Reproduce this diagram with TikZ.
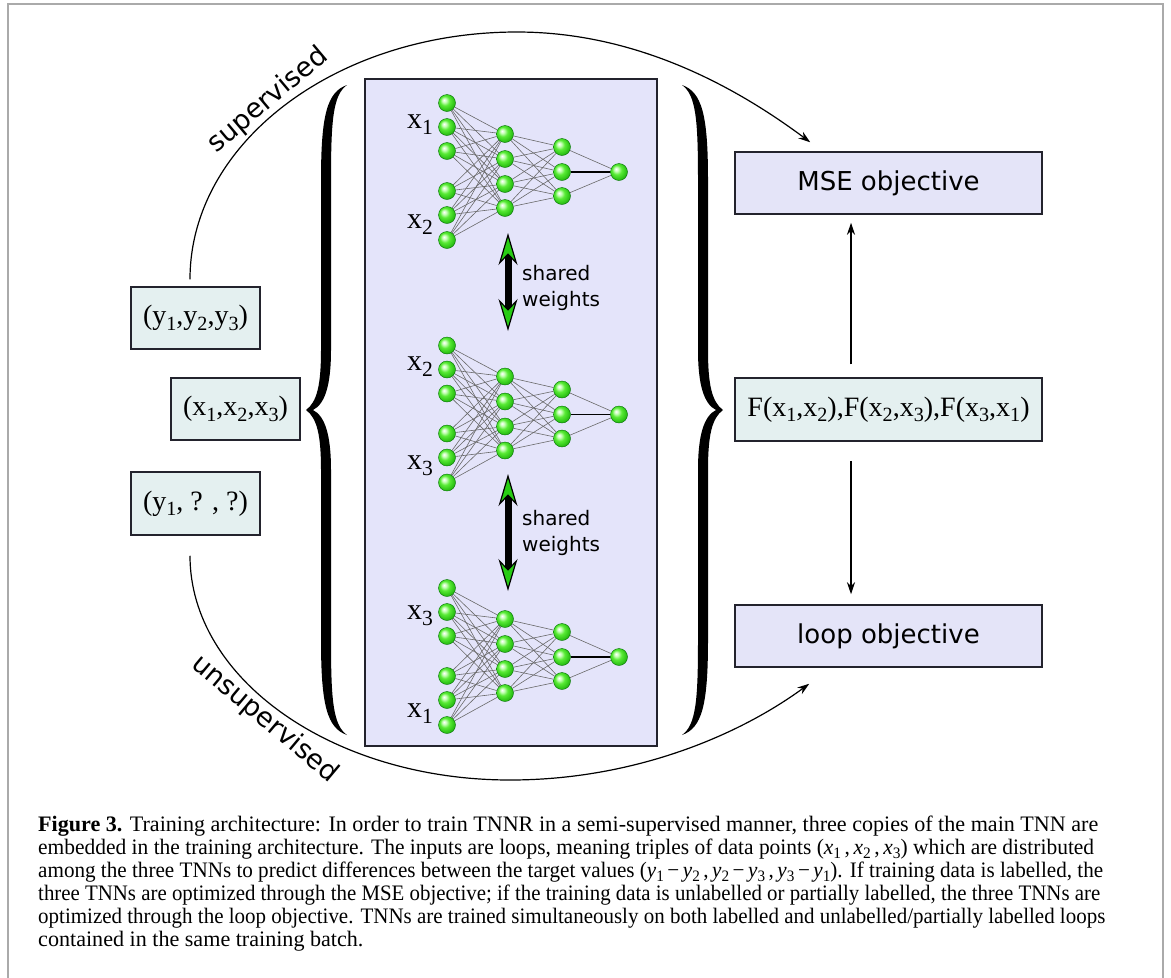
\documentclass[tikz,border=0pt]{standalone}
\usepackage{fontspec}
\setmainfont{Liberation Serif}
\newfontfamily\dejavu{DejaVu Sans}
\usetikzlibrary{arrows.meta,shadings}
\definecolor{panelfill}{RGB}{228,228,250}
\definecolor{boxcyan}{RGB}{228,240,240}
\definecolor{boxlav}{RGB}{228,228,248}
\definecolor{nlight}{RGB}{200,255,185}
\definecolor{ngreen}{RGB}{90,235,55}
\definecolor{nmid}{RGB}{50,200,25}
\definecolor{ndark}{RGB}{30,150,15}
\definecolor{agreen}{RGB}{40,205,20}
\definecolor{framegray}{RGB}{170,170,170}
\definecolor{edgegray}{RGB}{105,105,105}
\definecolor{boxborder}{RGB}{35,35,45}
\pgfdeclareradialshading{neuronball}{\pgfpoint{-9bp}{9bp}}{color(0bp)=(white); color(6bp)=(nlight); color(14bp)=(ngreen); color(24bp)=(nmid); color(34bp)=(ndark); color(50bp)=(ndark)}
\newcommand{\lo}[1]{\raisebox{-0.2em}{\scalebox{0.72}{#1}}}
\newcommand{\capline}[2]{\resizebox{#1pt}{\height}{#2}}
\pgfdeclarelayer{bg}
\pgfdeclarelayer{mid}
\pgfsetlayers{bg,mid,main}
\tikzset{
  panelbox/.style={draw=boxborder,line width=1.5pt,fill=panelfill,inner sep=0pt},
  inbox/.style={draw=boxborder,line width=1.5pt,fill=boxcyan,inner sep=0pt,minimum width=129,minimum height=62,font=\fontsize{28}{30}\selectfont},
  objbox/.style={draw=boxborder,line width=1.5pt,fill=boxlav,inner sep=0pt,minimum width=307,minimum height=62,font=\dejavu\fontsize{26}{30}\selectfont},
  fbox/.style={draw=boxborder,line width=1.5pt,fill=boxcyan,inner sep=0pt,minimum width=307,minimum height=63,font=\fontsize{28}{30}\selectfont},
  neuron/.style={circle,minimum size=17,inner sep=0pt,shading=neuronball,draw=green!45!black,line width=0.4pt},
  edge/.style={draw=edgegray,line width=0.6pt},
  outedge/.style={draw=black,line width=1.2pt},
  netlbl/.style={anchor=base west,inner sep=0pt,font=\fontsize{30}{32}\selectfont},
  arr/.style={draw=black,line width=1.3pt,-{Stealth[length=12pt,width=8pt]}},
  sharedarr/.style={draw=black,line width=7pt,{Stealth[length=32pt,width=19pt,inset=10pt,fill=agreen,line width=1.2pt]}-{Stealth[length=32pt,width=19pt,inset=10pt,fill=agreen,line width=1.2pt]}},
  swlbl/.style={anchor=west,align=left,inner sep=0pt,font=\dejavu\fontsize{20}{26}\selectfont},
  arclbl/.style={inner sep=0pt,font=\dejavu\fontsize{27}{30}\selectfont},
  bracepic/.pic={
    \fill[black] (41,-325) .. controls (21,-318) and (15,-295) .. (15,-230)
      -- (15,-60) .. controls (15,-25) and (11,-8) .. (0,0)
      .. controls (11,8) and (15,25) .. (15,60)
      -- (15,230) .. controls (15,295) and (21,318) .. (41,325)
      .. controls (27,315) and (25,290) .. (25,230)
      -- (25,60) .. controls (25,25) and (19,6) .. (7,0)
      .. controls (19,-6) and (25,-25) .. (25,-60)
      -- (25,-230) .. controls (25,-290) and (27,-315) .. (41,-325) -- cycle;
  }
}
\begin{document}
\begin{tikzpicture}[x=1pt,y=-1pt]
\useasboundingbox (0,0) rectangle (1171,978);
% outer frame
\draw[framegray,line width=1.5pt] (8,978) -- (8,4) -- (1163,4) -- (1163,978);

% main panel
\begin{pgfonlayer}{bg}
\node[panelbox,minimum width=292,minimum height=667] (panel) at (511,412.5) {};
\end{pgfonlayer}

% networks
\foreach \k in {1,2,3} {
  \pgfmathsetmacro\dy{(\k-1)*242.5}
  \foreach \i/\yy in {1/103,2/127,3/151,4/191,5/215,6/240}
    \node[neuron] (n\k-a\i) at (447,\yy+\dy) {};
  \foreach \i/\yy in {1/134,2/159,3/184,4/208}
    \node[neuron] (n\k-b\i) at (505,\yy+\dy) {};
  \foreach \i/\yy in {1/147,2/172,3/196}
    \node[neuron] (n\k-c\i) at (562,\yy+\dy) {};
  \node[neuron] (n\k-d) at (619,172+\dy) {};
  \begin{pgfonlayer}{mid}
    \foreach \i in {1,...,6}
      \foreach \j in {1,...,4}
        \draw[edge] (n\k-a\i) -- (n\k-b\j);
    \foreach \i in {1,...,4}
      \foreach \j in {1,...,3}
        \draw[edge] (n\k-b\i) -- (n\k-c\j);
    \draw[edge] (n\k-c1) -- (n\k-d);
    \draw[outedge] (n\k-c2) -- (n\k-d);
    \draw[edge] (n\k-c3) -- (n\k-d);
  \end{pgfonlayer}
}

% input labels
\node[netlbl] (l1a) at (407,128) {x\lo{1}};
\node[netlbl] (l1b) at (407,228) {x\lo{2}};
\node[netlbl] (l2a) at (407,370) {x\lo{2}};
\node[netlbl] (l2b) at (407,469) {x\lo{3}};
\node[netlbl] (l3a) at (407,619) {x\lo{3}};
\node[netlbl] (l3b) at (407,717) {x\lo{1}};

% shared weights
\coordinate (sw1t) at (508,233);
\coordinate (sw1b) at (508,331);
\coordinate (sw2t) at (508,474);
\coordinate (sw2b) at (508,591);
\draw[sharedarr] (sw1t) -- (sw1b);
\draw[sharedarr] (sw2t) -- (sw2b);
\node[swlbl] (sw1) at (522,288) {shared\\weights};
\node[swlbl] (sw2) at (522,533) {shared\\weights};

% braces
\pic (lbrace) at (306,410) {bracepic};
\pic[xscale=-1] (rbrace) at (723,410) {bracepic};

% left boxes
\node[inbox] (ybox) at (195.5,318) {(y\lo{1},y\lo{2},y\lo{3})};
\node[inbox] (xbox) at (235.5,409) {(x\lo{1},x\lo{2},x\lo{3})};
\node[inbox,minimum height=63] (qbox) at (195.5,503.5) {(y\lo{1}, ? , ?)};

% right boxes
\node[objbox] (mse) at (888.5,183) {MSE objective};
\node[fbox] (fbox) at (888.5,409.5) {F(x\lo{1},x\lo{2}),F(x\lo{2},x\lo{3}),F(x\lo{3},x\lo{1})};
\node[objbox] (loop) at (888.5,636) {loop objective};

\draw[arr] ([xshift=-37.5pt,yshift=13pt]fbox.north) -- ([xshift=-37.5pt,yshift=-8pt]mse.south);
\draw[arr] ([xshift=-37.5pt,yshift=-19pt]fbox.south) -- ([xshift=-37.5pt,yshift=10pt]loop.north);

% arcs
\coordinate (toppeak) at (517,32);
\coordinate (botpeak) at (510,780);
\draw[arr,line width=1.2pt] ([xshift=-5.5pt,yshift=7pt]ybox.north) .. controls (190,143) and (336,32) .. (toppeak)
   .. controls (640,32) and (740,90) .. ([xshift=76pt,yshift=9pt]mse.north west);
\draw[arr,line width=1.2pt] ([xshift=-5.5pt,yshift=-20pt]qbox.south) .. controls (190,679) and (333,780) .. (botpeak)
   .. controls (630,780) and (735,738) .. ([xshift=75pt,yshift=-16pt]loop.south west);
\node[arclbl,rotate=40] (sup) at (268,100) {supervised};
\node[arclbl,rotate=-40] (unsup) at (265,719) {unsupervised};

% caption
\node[anchor=base west,align=left,inner sep=0pt,font=\fontsize{22.1}{23}\selectfont] (caption) at (38,946) {%
\capline{1060}{\textbf{Figure 3.} Training architecture: In order to train TNNR in a semi-supervised manner, three copies of the main TNN are}\\
\capline{1056}{embedded in the training architecture. The inputs are loops, meaning triples of data points (\textit{x}\lo{1}\,,\,\textit{x}\lo{2}\,,\,\textit{x}\lo{3}) which are distributed}\\
\capline{1065}{among the three TNNs to predict differences between the target values (\textit{y}\lo{1}\,−\,\textit{y}\lo{2}\,,\,\textit{y}\lo{2}\,−\,\textit{y}\lo{3}\,,\,\textit{y}\lo{3}\,−\,\textit{y}\lo{1}). If training data is labelled, the}\\
\capline{1062}{three TNNs are optimized through the MSE objective; if the training data is unlabelled or partially labelled, the three TNNs are}\\
\capline{1067}{optimized through the loop objective. TNNs are trained simultaneously on both labelled and unlabelled/partially labelled loops}\\
contained in the same training batch.};
\end{tikzpicture}
\end{document}
